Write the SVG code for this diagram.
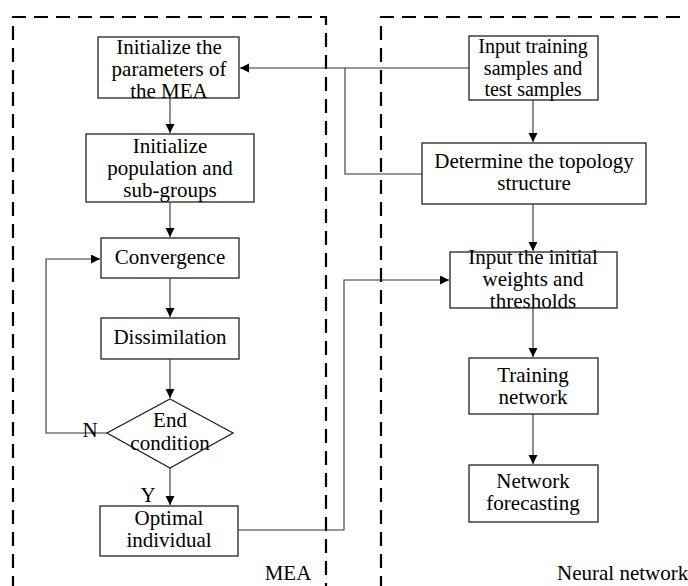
<svg xmlns="http://www.w3.org/2000/svg" width="688" height="586" viewBox="0 0 688 586">
<style>
text{font-family:"Liberation Serif","Times New Roman",serif;font-size:21px;fill:#000;text-anchor:middle}
.sm text{font-size:20px}
.box{fill:#fff;stroke:#222;stroke-width:1.3}
.dash{fill:none;stroke:#000;stroke-width:2.2;stroke-dasharray:14 8}
.ln{fill:none;stroke:#333;stroke-width:1.1}
</style>
<defs>
<marker id="ah" markerWidth="10" markerHeight="10" refX="9" refY="4.5" orient="auto" markerUnits="userSpaceOnUse">
<path d="M0,0 L9,4.5 L0,9 Z" fill="#000"/>
</marker>
</defs>
<g id="frames">
<path class="dash" d="M13,590 L13,17 L326,17 L326,590"/>
<path class="dash" d="M381,590 L381,17 L690,17"/>
<text x="288" y="580">MEA</text>
<text x="557" y="580" style="text-anchor:start">Neural network</text>
</g>
<g id="connectors">
<path class="ln" d="M170,98 L170,133" marker-end="url(#ah)"/>
<path class="ln" d="M170,202 L170,237" marker-end="url(#ah)"/>
<path class="ln" d="M170,278 L170,317" marker-end="url(#ah)"/>
<path class="ln" d="M170,359 L170,398" marker-end="url(#ah)"/>
<path class="ln" d="M170,468 L170,505" marker-end="url(#ah)"/>
<path class="ln" d="M107,433 L46,433 L46,259 L100,259" marker-end="url(#ah)"/>
<path class="ln" d="M469,68 L240,68" marker-end="url(#ah)"/>
<path class="ln" d="M422,174 L345,174 L345,68"/>
<path class="ln" d="M533,100 L533,142" marker-end="url(#ah)"/>
<path class="ln" d="M533,204 L533,251" marker-end="url(#ah)"/>
<path class="ln" d="M533,308 L533,357" marker-end="url(#ah)"/>
<path class="ln" d="M533,414 L533,464" marker-end="url(#ah)"/>
<path class="ln" d="M238,530 L344,530 L344,280 L449,280" marker-end="url(#ah)"/>
<text x="90" y="437">N</text>
<text x="148" y="502">Y</text>
</g>
<g id="init-params">
<rect class="box" x="98" y="37" width="141" height="61"/>
<text x="169" y="54">Initialize the</text>
<text x="169" y="76">parameters of</text>
<text x="169" y="98">the MEA</text>
</g>
<g id="init-pop">
<rect class="box" x="86" y="134" width="168" height="68"/>
<text x="170" y="153">Initialize</text>
<text x="170" y="175">population and</text>
<text x="170" y="197">sub-groups</text>
</g>
<g id="convergence">
<rect class="box" x="101" y="238" width="138" height="40"/>
<text x="170" y="264">Convergence</text>
</g>
<g id="dissimilation">
<rect class="box" x="101" y="318" width="138" height="41"/>
<text x="170" y="344">Dissimilation</text>
</g>
<g id="end-condition">
<path class="box" d="M170,399 L233,433 L170,468 L107,433 Z"/>
<text x="170" y="427">End</text>
<text x="170" y="450">condition</text>
</g>
<g id="optimal">
<rect class="box" x="100" y="506" width="138" height="50"/>
<text x="169" y="525">Optimal</text>
<text x="169" y="547">individual</text>
</g>
<g id="input-samples" class="sm">
<rect class="box" x="469" y="36" width="129" height="64"/>
<text x="533" y="53">Input training</text>
<text x="533" y="74.5">samples and</text>
<text x="533" y="96">test samples</text>
</g>
<g id="topology">
<rect class="box" x="422" y="143" width="224" height="61"/>
<text x="534" y="168">Determine the topology</text>
<text x="534" y="190">structure</text>
</g>
<g id="init-weights">
<rect class="box" x="450" y="252" width="167" height="56"/>
<text x="533" y="264">Input the initial</text>
<text x="533" y="286">weights and</text>
<text x="533" y="308">thresholds</text>
</g>
<g id="training">
<rect class="box" x="469" y="358" width="129" height="56"/>
<text x="533" y="382">Training</text>
<text x="533" y="404">network</text>
</g>
<g id="forecasting">
<rect class="box" x="469" y="465" width="129" height="57"/>
<text x="533" y="488">Network</text>
<text x="533" y="510">forecasting</text>
</g>
</svg>
